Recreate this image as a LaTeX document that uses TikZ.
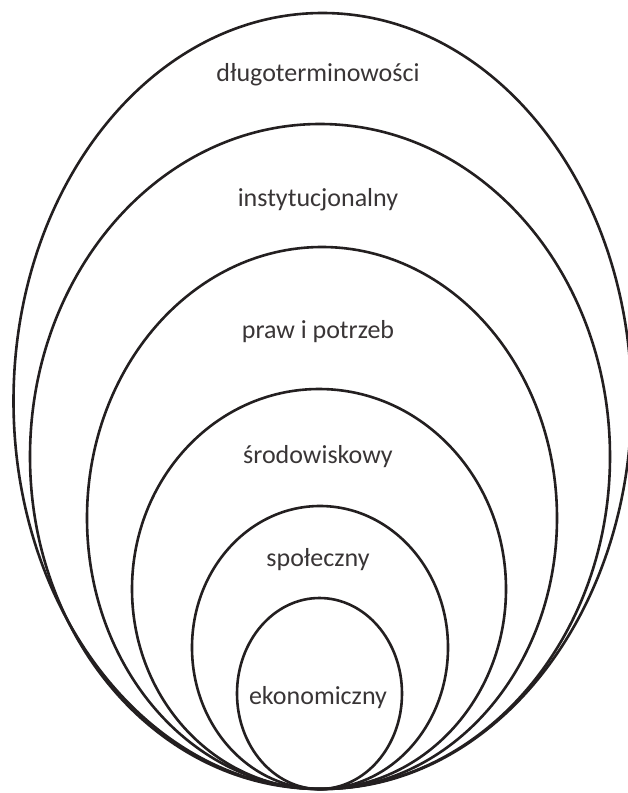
\documentclass[tikz,border=0pt]{standalone}
\usepackage{fontspec}
\setmainfont{Carlito}
\definecolor{ink}{HTML}{231F20}
\begin{document}
\begin{tikzpicture}[x=1pt,y=-1pt,
  ring/.style={draw=ink,line width=2.6pt},
  lbl/.style={text=ink!90,font=\fontsize{26}{30}\selectfont,inner sep=0pt,anchor=center}]
\useasboundingbox (0,0) rectangle (627,793);
\fill[white] (0,0) rectangle (627,793);
\draw[ring] (322.5,401) ellipse [x radius=309pt, y radius=388pt];
\draw[ring] (320,456.5) ellipse [x radius=290pt, y radius=332.5pt];
\draw[ring] (322,518) ellipse [x radius=235pt, y radius=271pt];
\draw[ring] (319,589) ellipse [x radius=187pt, y radius=200pt];
\draw[ring] (320,647.5) ellipse [x radius=128pt, y radius=141.5pt];
\draw[ring] (319.5,693.5) ellipse [x radius=82.5pt, y radius=95.5pt];
\node[lbl] (t1) at (318,75) {długoterminowości};
\node[lbl] (t2) at (318,200) {instytucjonalny};
\node[lbl] (t3) at (318,332) {praw i potrzeb};
\node[lbl] (t4) at (318,457) {środowiskowy};
\node[lbl] (t5) at (318,560) {społeczny};
\node[lbl] (t6) at (318,698) {ekonomiczny};
\end{tikzpicture}
\end{document}
